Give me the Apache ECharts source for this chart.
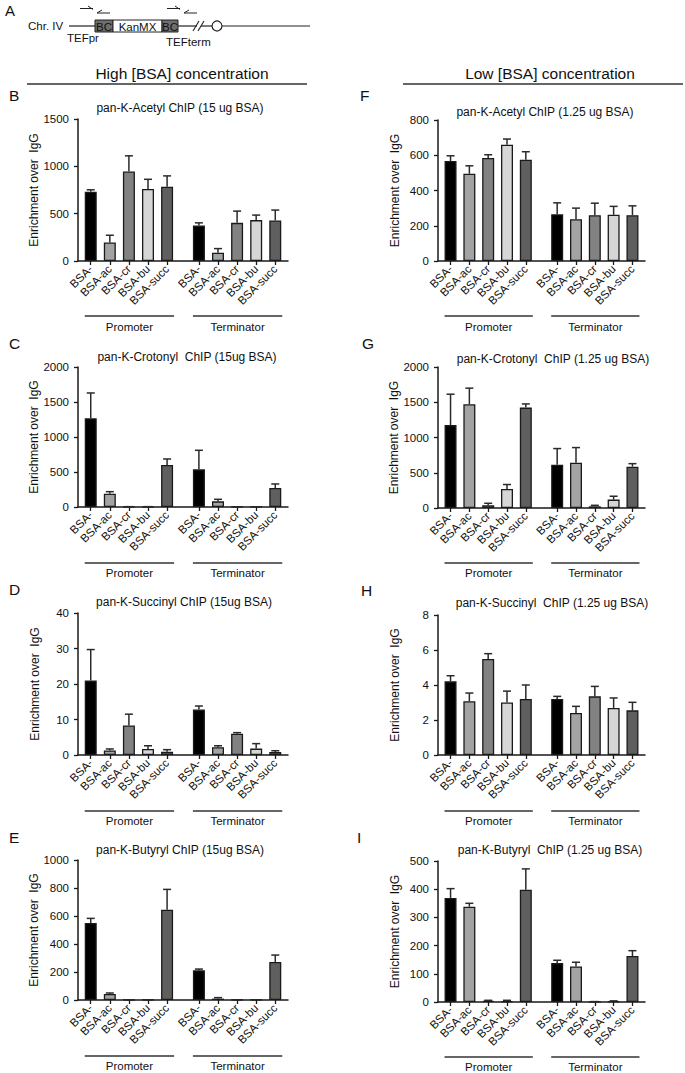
<!DOCTYPE html>
<html>
<head>
<meta charset="utf-8">
<script src="https://cdn.jsdelivr.net/npm/echarts@6/dist/echarts.min.js"></script>
<style>
html,body{margin:0;padding:0;background:#ffffff;}
#chart{width:685px;height:1073px;}
</style>
</head>
<body>
<div id="chart"></div>
<script>
// ---------------- data ----------------
const CATEGORIES = ['BSA-', 'BSA-ac', 'BSA-cr', 'BSA-bu', 'BSA-succ'];
const REGIONS = ['Promoter', 'Terminator'];
const Y_NAME = 'Enrichment over  IgG';

// values: 5 promoter bars then 5 terminator bars; SEM = upper error
const B_TITLE = 'pan-K-Acetyl ChIP (15 ug BSA)';
const B_MEAN = [732, 195, 945, 761, 785, 375, 88, 403, 432, 428];
const B_SEM  = [20, 77, 166, 102, 114, 28, 43, 124, 53, 110];

const C_TITLE = 'pan-K-Crotonyl  ChIP (15ug BSA)';
const C_MEAN = [1267, 190, 3, 3, 600, 538, 81, 2, 2, 271];
const C_SEM  = [362, 29, 2, 2, 86, 272, 29, 1, 1, 58];

const D_TITLE = 'pan-K-Succinyl ChIP (15ug BSA)';
const D_MEAN = [21.0, 1.3, 8.3, 1.7, 0.9, 12.8, 2.2, 6.0, 1.8, 0.85];
const D_SEM  = [8.7, 0.4, 3.2, 0.9, 0.6, 1.0, 0.4, 0.3, 1.4, 0.35];

const E_TITLE = 'pan-K-Butyryl ChIP (15ug BSA)';
const E_MEAN = [550, 43, 1, 1, 645, 212, 10, 1, 1, 271];
const E_SEM  = [33, 7, 0.5, 0.5, 145, 9, 7, 0.5, 0.5, 50];

const F_TITLE = 'pan-K-Acetyl ChIP (1.25 ug BSA)';
const F_MEAN = [567, 495, 585, 660, 575, 265, 237, 260, 262, 260];
const F_SEM  = [30, 45, 18, 32, 45, 65, 63, 68, 48, 53];

const G_TITLE = 'pan-K-Crotonyl  ChIP (1.25 ug BSA)';
const G_MEAN = [1176, 1471, 38, 271, 1424, 614, 643, 24, 119, 586];
const G_SEM  = [438, 229, 29, 62, 52, 229, 214, 14, 48, 43];

const H_TITLE = 'pan-K-Succinyl  ChIP (1.25 ug BSA)';
const H_MEAN = [4.21, 3.07, 5.49, 3.0, 3.2, 3.2, 2.4, 3.35, 2.69, 2.55];
const H_SEM  = [0.32, 0.47, 0.30, 0.65, 0.8, 0.15, 0.38, 0.57, 0.57, 0.46];

const I_TITLE = 'pan-K-Butyryl  ChIP (1.25 ug BSA)';
const I_MEAN = [369, 338, 4, 3, 398, 138, 126, 1, 2, 163];
const I_SEM  = [33, 12, 2, 3, 74, 10, 15, 0.5, 2, 19];

// ---------------- style / layout ----------------
const FONT = '"Liberation Sans", Arial, Helvetica, sans-serif';
const INK = '#1a1a1a';
const BAR_COLORS = ['#000000', '#a3a3a3', '#828282', '#d6d6d6', '#5f5f5f'];
const N_SLOTS = 34;
function slotOf(g, i) { return 2 + 3 * i + 17 * g; }

const PANELS = [
  {letter:'B', title:B_TITLE, mean:B_MEAN, sem:B_SEM, max:1500, step:500, left:78,  width:210, top:119, height:142, tx:180, ty:108, lx:9,   ly:95,  gy:316,  gty:327},
  {letter:'C', title:C_TITLE, mean:C_MEAN, sem:C_SEM, max:2000, step:500, left:78,  width:210, top:367, height:140, tx:187, ty:357, lx:9,   ly:343, gy:563,  gty:573},
  {letter:'D', title:D_TITLE, mean:D_MEAN, sem:D_SEM, max:40,   step:10,  left:78,  width:210, top:613, height:142, tx:184, ty:602, lx:9,   ly:589, gy:811,  gty:821},
  {letter:'E', title:E_TITLE, mean:E_MEAN, sem:E_SEM, max:1000, step:200, left:78,  width:210, top:860, height:140, tx:180, ty:850, lx:9,   ly:837, gy:1056, gty:1066},
  {letter:'F', title:F_TITLE, mean:F_MEAN, sem:F_SEM, max:800,  step:200, left:438, width:207, top:120, height:141, tx:545, ty:112, lx:360, ly:95,  gy:316,  gty:327},
  {letter:'G', title:G_TITLE, mean:G_MEAN, sem:G_SEM, max:2000, step:500, left:438, width:207, top:367, height:141, tx:553, ty:359, lx:362, ly:343, gy:563,  gty:573},
  {letter:'H', title:H_TITLE, mean:H_MEAN, sem:H_SEM, max:8,    step:2,   left:438, width:207, top:615, height:140, tx:552, ty:603, lx:361, ly:590, gy:811,  gty:821},
  {letter:'I', title:I_TITLE, mean:I_MEAN, sem:I_SEM, max:500,  step:100, left:438, width:207, top:861, height:141, tx:550, ty:850, lx:357, ly:837, gy:1057, gty:1067}
];

const slotLabels = new Array(N_SLOTS).fill('');
REGIONS.forEach((r, g) => CATEGORIES.forEach((c, i) => { slotLabels[slotOf(g, i)] = c; }));
const isBarSlot = (idx, val) => val !== '';

const chart = echarts.init(document.getElementById('chart'), null, {renderer: 'svg'});

const grids = [], xAxes = [], yAxes = [], series = [];
PANELS.forEach((p, k) => {
  grids.push({left: p.left, top: p.top, width: p.width, height: p.height, containLabel: false, outerBoundsMode: 'none'});
  xAxes.push({
    gridIndex: k, type: 'category', data: slotLabels, boundaryGap: false,
    axisLine: {show: true, lineStyle: {color: INK, width: 1.5}},
    axisTick: {show: true, interval: isBarSlot, length: 4, lineStyle: {color: INK, width: 1.3}},
    axisLabel: {show: true, interval: isBarSlot, rotate: 45, margin: 6, fontSize: 11.5, color: '#111', fontFamily: FONT, hideOverlap: false},
    splitLine: {show: false}
  });
  yAxes.push({
    gridIndex: k, type: 'value', min: 0, max: p.max, interval: p.step,
    name: Y_NAME, nameLocation: 'middle', nameGap: 37,
    nameTextStyle: {fontSize: 12, color: '#111', fontFamily: FONT},
    axisLine: {show: true, lineStyle: {color: INK, width: 1.5}},
    axisTick: {show: true, length: 4, lineStyle: {color: INK, width: 1.3}},
    axisLabel: {margin: 9, fontSize: 11.5, color: '#111', fontFamily: FONT, formatter: v => String(v)},
    splitLine: {show: false}
  });
  const barData = [], errData = [];
  REGIONS.forEach((r, g) => CATEGORIES.forEach((c, i) => {
    const j = g * 5 + i;
    barData.push({value: [slotOf(g, i), p.mean[j]], itemStyle: {color: BAR_COLORS[i]}});
    errData.push([slotOf(g, i), p.mean[j], p.sem[j]]);
  }));
  series.push({
    type: 'bar', xAxisIndex: k, yAxisIndex: k, barWidth: 12, data: barData,
    itemStyle: {borderColor: INK, borderWidth: 1.3}, silent: true, z: 2
  });
  series.push({
    type: 'custom', xAxisIndex: k, yAxisIndex: k, data: errData, silent: true, z: 3,
    renderItem: function (params, api) {
      const x = api.value(0), m = api.value(1), s = api.value(2);
      const p0 = api.coord([x, m]);
      const p1 = api.coord([x, m + s]);
      const hw = 4;
      const st = {stroke: '#2a2a2a', lineWidth: 1.5};
      return {type: 'group', children: [
        {type: 'line', shape: {x1: p0[0], y1: p0[1], x2: p1[0], y2: p1[1]}, style: st},
        {type: 'line', shape: {x1: p1[0] - hw, y1: p1[1], x2: p1[0] + hw, y2: p1[1]}, style: st}
      ]};
    }
  });
});

chart.setOption({
  animation: false,
  backgroundColor: '#ffffff',
  textStyle: {fontFamily: FONT},
  grid: grids, xAxis: xAxes, yAxis: yAxes, series: series
});

// ---------------- annotations ----------------
function txt(text, x, y, size, align, extra) {
  return Object.assign({type: 'text', silent: true, style: {text: text, x: x, y: y, fontSize: size, fontFamily: FONT, fill: '#111', align: align || 'center', verticalAlign: 'middle'}}, extra || {});
}
function ln(x1, y1, x2, y2, w, color) {
  return {type: 'line', silent: true, shape: {x1: x1, y1: y1, x2: x2, y2: y2}, style: {stroke: color || '#2a2a2a', lineWidth: w || 1.5}};
}

const G = [];
// Panel A diagram
G.push(txt('A', 5, 10, 15, 'left'));
G.push(txt('Chr. IV', 28, 26, 11.5, 'left'));
G.push(ln(69, 26, 95, 26, 1.2, '#222'));
G.push(ln(178, 26, 197, 26, 1.2, '#222'));
G.push(ln(201, 26, 212, 26, 1.2, '#222'));
G.push(ln(222, 26, 310, 26, 1.2, '#222'));
G.push(ln(193, 31, 199, 21, 1.1, '#222'));
G.push(ln(198, 31, 204, 21, 1.1, '#222'));
G.push({type: 'circle', silent: true, shape: {cx: 217, cy: 26, r: 5}, style: {fill: '#fff', stroke: '#222', lineWidth: 1.2}});
G.push({type: 'rect', silent: true, shape: {x: 95, y: 20, width: 18, height: 12}, style: {fill: '#6e6e6e', stroke: '#222', lineWidth: 1}});
G.push({type: 'rect', silent: true, shape: {x: 113, y: 20, width: 49, height: 12}, style: {fill: '#fff', stroke: '#222', lineWidth: 1}});
G.push({type: 'rect', silent: true, shape: {x: 162, y: 20, width: 16, height: 12}, style: {fill: '#6e6e6e', stroke: '#222', lineWidth: 1}});
G.push(txt('BC', 104, 26.5, 11.5));
G.push(txt('KanMX', 137.5, 26.5, 11.5));
G.push(txt('BC', 170, 26.5, 11.5));
G.push(txt('TEFpr', 67, 38, 11.5, 'left'));
G.push(txt('TEFterm', 166, 42, 11.5, 'left'));
// primer arrows
G.push(ln(80, 8.5, 93, 8.5, 1, '#222')); G.push(ln(88, 6, 93, 9.5, 1, '#222'));
G.push(ln(97, 13, 110, 13, 1, '#222')); G.push(ln(97, 13, 102, 10, 1, '#222'));
G.push(ln(167, 8.5, 180, 8.5, 1, '#222')); G.push(ln(175, 6, 180, 9.5, 1, '#222'));
G.push(ln(184, 13, 197, 13, 1, '#222')); G.push(ln(184, 13, 189, 10, 1, '#222'));

// Column headers
G.push(txt('High [BSA] concentration', 182, 73, 15.5));
G.push(ln(27, 84, 307, 84, 1.6, '#333'));
G.push(txt('Low [BSA] concentration', 550, 73, 15.5));
G.push(ln(403, 84, 683, 84, 1.6, '#333'));

PANELS.forEach((p, k) => {
  G.push(txt(p.letter, p.lx, p.ly, 15.5, 'left'));
  G.push(txt(p.title, p.tx, p.ty, 12));
  REGIONS.forEach((r, g) => {
    const x1 = chart.convertToPixel({xAxisIndex: k}, slotOf(g, 0)) - 6;
    const x2 = chart.convertToPixel({xAxisIndex: k}, slotOf(g, 4)) + 7;
    G.push(ln(x1, p.gy, x2, p.gy, 1.5, '#333'));
    G.push(txt(r, (x1 + x2) / 2, p.gty, 11.5));
  });
});

chart.setOption({graphic: G});
</script>
</body>
</html>
